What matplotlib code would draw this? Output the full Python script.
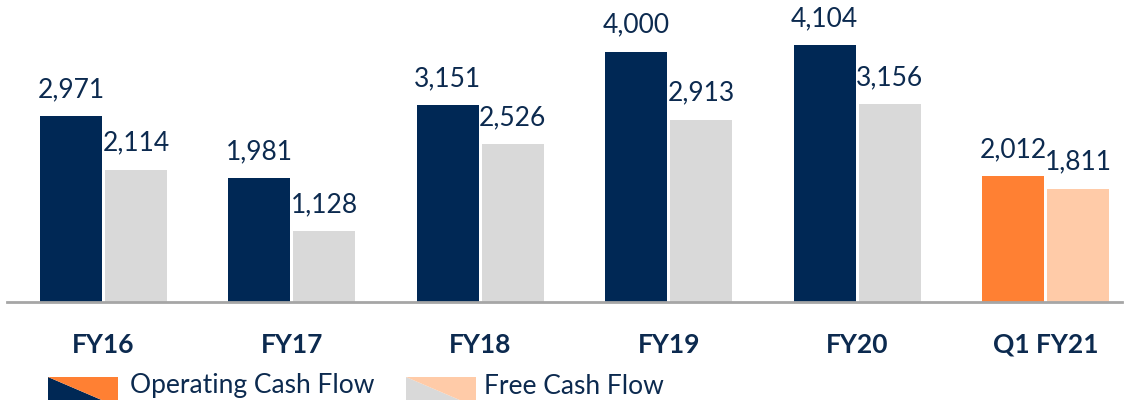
import numpy as np
import matplotlib
matplotlib.use('Agg')
import matplotlib.pyplot as plt
from matplotlib.patches import Polygon

# date din grafic
categorii = ['FY16', 'FY17', 'FY18', 'FY19', 'FY20', 'Q1 FY21']
operating_cf = [2971, 1981, 3151, 4000, 4104, 2012]
free_cf = [2114, 1128, 2526, 2913, 3156, 1811]
etichete_legenda = ['Operating Cash Flow', 'Free Cash Flow']

# culori
navy = '#002855'
gri = '#D9D9D9'
portocaliu = '#FF8033'
piersica = '#FFCBA8'
text_col = '#0C2A4F'

plt.rcParams['font.family'] = ['Lato', 'DejaVu Sans']

fig = plt.figure(figsize=(11.29, 4.0), dpi=100)
W, H = 1129, 400
ax = fig.add_axes([7 / W, (400 - 302) / H, (1122 - 7) / W, 302 / H])

x = np.arange(len(categorii))
latime = 0.329
dx = 0.1725
n = len(categorii)
culori_ocf = [navy] * (n - 1) + [portocaliu]
culori_fcf = [gri] * (n - 1) + [piersica]

b1 = ax.bar(x - dx, operating_cf, width=latime, color=culori_ocf)
b2 = ax.bar(x + dx, free_cf, width=latime, color=culori_fcf)

for bars, vals in ((b1, operating_cf), (b2, free_cf)):
    for b, v in zip(bars, vals):
        ax.annotate(f'{v:,}', (b.get_x() + b.get_width() / 2, v),
                    xytext=(0, 10), textcoords='offset points',
                    ha='center', va='bottom', fontsize=19, color=text_col)

ax.set_xlim(-0.512, 5.406)
ax.set_ylim(0, 4824)
for s in ['top', 'right', 'left']:
    ax.spines[s].set_visible(False)
ax.spines['bottom'].set_color('#A6A6A6')
ax.spines['bottom'].set_linewidth(2)
ax.set_yticks([])
ax.set_xticks(x)
ax.set_xticklabels(categorii, fontsize=19, fontweight='bold', color=text_col)
ax.tick_params(axis='x', length=0, pad=22)

# legenda cu patrate impartite pe diagonala
def patrat_diag(x0, y0, w, h, jos, sus):
    # coordonate in pixeli, transformate in fractie din figura
    def p(px, py):
        return (px / W, 1 - py / H)
    t1 = Polygon([p(x0, y0), p(x0, y0 + h), p(x0 + w, y0 + h)], closed=True,
                 facecolor=jos, edgecolor='none', transform=fig.transFigure)
    t2 = Polygon([p(x0, y0), p(x0 + w, y0), p(x0 + w, y0 + h)], closed=True,
                 facecolor=sus, edgecolor='none', transform=fig.transFigure)
    fig.add_artist(t1)
    fig.add_artist(t2)

patrat_diag(48, 377, 70, 30, navy, portocaliu)
patrat_diag(406, 377, 70, 30, gri, piersica)
fig.text(130 / W, 1 - 386 / H, etichete_legenda[0], fontsize=19, color=text_col,
         va='center', ha='left')
fig.text(484 / W, 1 - 386 / H, etichete_legenda[1], fontsize=19, color=text_col,
         va='center', ha='left')

fig.savefig('out.png', dpi=100)
